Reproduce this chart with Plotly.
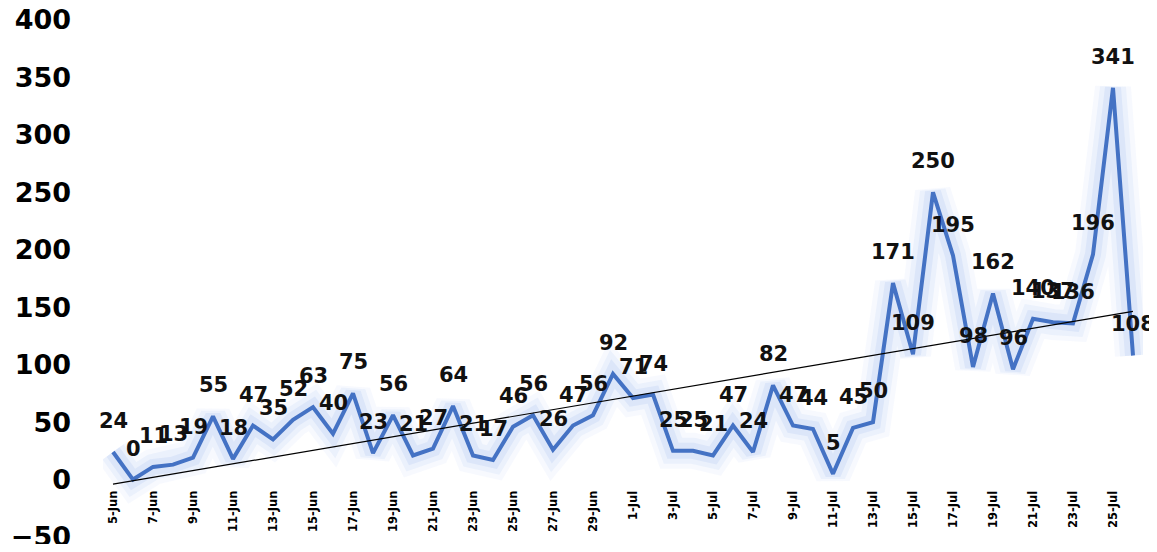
import numpy as np
import plotly.graph_objects as go

dates = ['5-Jun', '6-Jun', '7-Jun', '8-Jun', '9-Jun', '10-Jun', '11-Jun', '12-Jun', '13-Jun',
         '14-Jun', '15-Jun', '16-Jun', '17-Jun', '18-Jun', '19-Jun', '20-Jun', '21-Jun', '22-Jun',
         '23-Jun', '24-Jun', '25-Jun', '26-Jun', '27-Jun', '28-Jun', '29-Jun', '30-Jun',
         '1-Jul', '2-Jul', '3-Jul', '4-Jul', '5-Jul', '6-Jul', '7-Jul', '8-Jul', '9-Jul', '10-Jul',
         '11-Jul', '12-Jul', '13-Jul', '14-Jul', '15-Jul', '16-Jul', '17-Jul', '18-Jul', '19-Jul',
         '20-Jul', '21-Jul', '22-Jul', '23-Jul', '24-Jul', '25-Jul', '26-Jul']
cases = [24, 0, 11, 13, 19, 55, 18, 47, 35, 52, 63, 40, 75, 23, 56, 21, 27, 64, 21, 17, 46, 56,
         26, 47, 56, 92, 71, 74, 25, 25, 21, 47, 24, 82, 47, 44, 5, 45, 50, 171, 109, 250, 195,
         98, 162, 96, 140, 137, 136, 196, 341, 108]
y_ticks = [-50, 0, 50, 100, 150, 200, 250, 300, 350, 400]

idx = np.arange(len(cases))
slope, intercept = np.polyfit(idx, cases, 1)
trend = slope * idx + intercept

FONT = 'DejaVu Sans'

fig = go.Figure()

# soft glow under the main line
for w, a in [(36, 0.07), (26, 0.10), (16, 0.16)]:
    fig.add_trace(go.Scatter(
        x=idx, y=cases, mode='lines',
        line=dict(color=f'rgba(140,175,235,{a})', width=w),
        hoverinfo='skip', showlegend=False, cliponaxis=False
    ))

fig.add_trace(go.Scatter(
    x=idx, y=cases, mode='lines',
    line=dict(color='#4472C4', width=4),
    showlegend=False, cliponaxis=False
))

fig.add_trace(go.Scatter(
    x=idx, y=trend, mode='lines',
    line=dict(color='black', width=1.2),
    showlegend=False
))

# value labels above each point
for i, v in enumerate(cases):
    fig.add_annotation(
        x=i, y=v, text=str(v), showarrow=False,
        xanchor='center', yanchor='middle', yshift=31,
        font=dict(family=FONT, size=21, color='#111111', weight='bold')
    )

# category labels sit at the zero line, rotated
for i in range(0, len(dates), 2):
    fig.add_annotation(
        x=i, y=0, text=dates[i], showarrow=False,
        textangle=-90, xanchor='center', yanchor='top', yshift=-10,
        font=dict(family=FONT, size=11.5, color='black', weight='bold')
    )

fig.update_layout(
    width=1141, height=536,
    template='simple_white',
    margin=dict(l=95, r=6, t=12, b=7),
    plot_bgcolor='white',
    paper_bgcolor='white',
    xaxis=dict(range=[-0.5, len(cases) - 0.5], showticklabels=False, showline=False,
               ticks='', showgrid=False, zeroline=False, automargin=False),
    yaxis=dict(range=[-50, 400], tickvals=y_ticks, showline=False, ticks='',
               showgrid=False, zeroline=False, ticklabelstandoff=31, automargin=False,
               ticklabeloverflow='allow',
               tickfont=dict(family=FONT, size=27, color='black', weight='bold')),
)

fig.write_html('out.html')
